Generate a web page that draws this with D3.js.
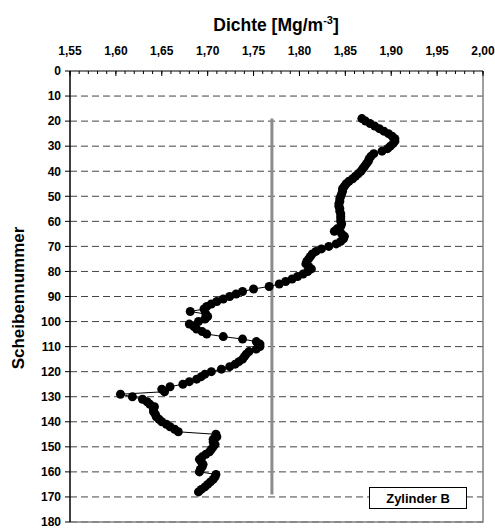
<!DOCTYPE html>
<html>
<head>
<meta charset="utf-8">
<script src="https://cdn.jsdelivr.net/npm/d3@7/dist/d3.min.js"></script>
<style>
  html, body { margin: 0; padding: 0; background: #fff; }
  svg { display: block; font-family: "Liberation Sans", Arial, sans-serif; }
</style>
</head>
<body>
<svg id="chart" width="495" height="529"></svg>
<script>
// Slice numbers (Scheibennummer) along the cylinder
const slices = [
  19, 20, 21, 22, 23, 24, 25, 26, 27, 28, 29, 30, 31, 32, 33, 34, 35, 36, 37, 38,
  39, 40, 41, 42, 43, 44, 45, 46, 47, 48, 49, 50, 51, 52, 53, 54, 55, 56, 57, 58,
  59, 60, 61, 62, 63, 64, 65, 66, 67, 68, 69, 70, 71, 72, 73, 74, 75, 76, 77, 78,
  79, 80, 81, 82, 83, 84, 85, 86, 87, 88, 89, 90, 91, 92, 93, 94, 95, 96, 97, 98,
  99, 100, 101, 102, 103, 104, 105, 106, 107, 108, 109, 110, 111, 112, 113, 114, 115, 116, 117, 118,
  119, 120, 121, 122, 123, 124, 125, 126, 127, 128, 129, 130, 131, 132, 133, 134, 135, 136, 137, 138,
  139, 140, 141, 142, 143, 144, 145, 146, 147, 148, 149, 150, 151, 152, 153, 154, 155, 156, 157, 158,
  159, 160, 161, 162, 163, 164, 165, 166, 167, 168
];

// Density per slice [Mg/m³]
const density = [
  1.868, 1.872, 1.877, 1.882, 1.887, 1.892, 1.897, 1.901, 1.904, 1.904,
  1.902, 1.899, 1.896, 1.890, 1.881, 1.878, 1.876, 1.875, 1.873, 1.871,
  1.869, 1.867, 1.864, 1.861, 1.858, 1.854, 1.851, 1.849, 1.847, 1.847,
  1.846, 1.845, 1.844, 1.844, 1.843, 1.843, 1.844, 1.844, 1.845, 1.845,
  1.845, 1.845, 1.846, 1.845, 1.841, 1.838, 1.846, 1.849, 1.848, 1.845,
  1.840, 1.832, 1.824, 1.818, 1.814, 1.812, 1.810, 1.808, 1.807, 1.810,
  1.813, 1.809, 1.804, 1.798, 1.792, 1.785, 1.778, 1.767, 1.750, 1.738,
  1.731, 1.724, 1.717, 1.710, 1.704, 1.699, 1.696, 1.681, 1.698, 1.700,
  1.697, 1.690, 1.680, 1.685, 1.688, 1.694, 1.699, 1.717, 1.738, 1.753,
  1.757, 1.757, 1.753, 1.745, 1.742, 1.740, 1.738, 1.734, 1.730, 1.724,
  1.715, 1.704, 1.697, 1.693, 1.688, 1.680, 1.673, 1.659, 1.650, 1.653,
  1.605, 1.618, 1.629, 1.634, 1.637, 1.642, 1.641, 1.641, 1.643, 1.644,
  1.647, 1.650, 1.655, 1.659, 1.664, 1.668, 1.709, 1.710, 1.706, 1.706,
  1.708, 1.706, 1.704, 1.702, 1.698, 1.694, 1.691, 1.693, 1.695, 1.694,
  1.692, 1.691, 1.709, 1.708, 1.706, 1.703, 1.700, 1.697, 1.693, 1.690
];

// Mean density line and the slice range it spans
const meanDensity = [1.77, 1.77];
const meanSlices = [19, 169];

// Axis ticks
const xTicks = [1.55, 1.60, 1.65, 1.70, 1.75, 1.80, 1.85, 1.90, 1.95, 2.00];
const yTicks = [0, 10, 20, 30, 40, 50, 60, 70, 80, 90, 100, 110, 120, 130, 140, 150, 160, 170, 180];

const legendLabel = "Zylinder B";

(function draw() {
  const svg = d3.select("#chart");
  const pl = 70, pr = 483, pt = 71, pb = 522;

  const x = d3.scaleLinear().domain([1.55, 2.00]).range([pl, pr]);
  const y = d3.scaleLinear().domain([0, 180]).range([pt, pb]);

  const fmtComma = v => d3.format(".2f")(v).replace(".", ",");

  // Dashed horizontal gridlines
  svg.append("g")
    .selectAll("line")
    .data(yTicks.filter(t => t > 0))
    .join("line")
    .attr("x1", pl).attr("x2", pr)
    .attr("y1", d => y(d)).attr("y2", d => y(d))
    .attr("stroke", "#444")
    .attr("stroke-width", 1)
    .attr("stroke-dasharray", "7,4");

  // Plot area border (right and bottom)
  svg.append("path")
    .attr("d", `M${pr},${pt}V${pb}H${pl}`)
    .attr("fill", "none")
    .attr("stroke", "#808080")
    .attr("stroke-width", 1.5);

  // Mean density line
  svg.append("line")
    .attr("x1", x(meanDensity[0])).attr("x2", x(meanDensity[1]))
    .attr("y1", y(meanSlices[0])).attr("y2", y(meanSlices[1]))
    .attr("stroke", "#8c8c8c")
    .attr("stroke-width", 3);

  // Density profile: thin connecting line plus round markers
  const pts = slices.map((s, i) => [density[i], s]);
  svg.append("path")
    .datum(pts)
    .attr("fill", "none")
    .attr("stroke", "#000")
    .attr("stroke-width", 1)
    .attr("d", d3.line().x(d => x(d[0])).y(d => y(d[1])));

  svg.append("g")
    .selectAll("circle")
    .data(pts)
    .join("circle")
    .attr("cx", d => x(d[0]))
    .attr("cy", d => y(d[1]))
    .attr("r", 4.5)
    .attr("fill", "#000");

  // Top axis (density)
  const xMinor = d3.range(155, 201).map(v => v / 100);
  const gx = svg.append("g").attr("transform", `translate(0,${pt})`);
  gx.append("line").attr("x1", pl).attr("x2", pr).attr("stroke", "#000").attr("stroke-width", 1);
  gx.selectAll("line.minor")
    .data(xMinor)
    .join("line").attr("class", "minor")
    .attr("x1", d => x(d)).attr("x2", d => x(d))
    .attr("y1", 0).attr("y2", 3)
    .attr("stroke", "#000");
  gx.selectAll("line.major")
    .data(xTicks)
    .join("line").attr("class", "major")
    .attr("x1", d => x(d)).attr("x2", d => x(d))
    .attr("y1", 0).attr("y2", 5)
    .attr("stroke", "#000");
  gx.selectAll("text")
    .data(xTicks)
    .join("text")
    .attr("x", d => x(d))
    .attr("y", -16)
    .attr("text-anchor", "middle")
    .attr("font-size", 12)
    .attr("font-weight", "bold")
    .text(fmtComma);

  // Left axis (slice number)
  const gy = svg.append("g").attr("transform", `translate(${pl},0)`);
  gy.append("line").attr("y1", pt).attr("y2", pb).attr("stroke", "#000").attr("stroke-width", 1.5);
  gy.selectAll("line.tick")
    .data(yTicks)
    .join("line").attr("class", "tick")
    .attr("x1", -5).attr("x2", 0)
    .attr("y1", d => y(d)).attr("y2", d => y(d))
    .attr("stroke", "#000");
  gy.selectAll("text")
    .data(yTicks)
    .join("text")
    .attr("x", -9)
    .attr("y", d => y(d))
    .attr("dy", "0.36em")
    .attr("text-anchor", "end")
    .attr("font-size", 12)
    .attr("font-weight", "bold")
    .text(d => d);

  // Axis titles
  const title = svg.append("text")
    .attr("x", 276)
    .attr("y", 31)
    .attr("text-anchor", "middle")
    .attr("font-size", 17.5)
    .attr("font-weight", "bold");
  title.append("tspan").text("Dichte [Mg/m");
  title.append("tspan").attr("font-size", 11).attr("dy", -7).text("-3");
  title.append("tspan").attr("dy", 7).text("]");

  svg.append("text")
    .attr("transform", `translate(24,298) rotate(-90)`)
    .attr("text-anchor", "middle")
    .attr("font-size", 17)
    .attr("font-weight", "bold")
    .text("Scheibennummer");

  // Label box
  const lg = svg.append("g");
  lg.append("rect")
    .attr("x", 369.5).attr("y", 487.5)
    .attr("width", 97).attr("height", 21)
    .attr("fill", "#fff")
    .attr("stroke", "#000");
  lg.append("text")
    .attr("x", 369.5 + 97 / 2)
    .attr("y", 498)
    .attr("dy", "0.36em")
    .attr("text-anchor", "middle")
    .attr("font-size", 13)
    .attr("font-weight", "bold")
    .text(legendLabel);
})();
</script>
</body>
</html>
